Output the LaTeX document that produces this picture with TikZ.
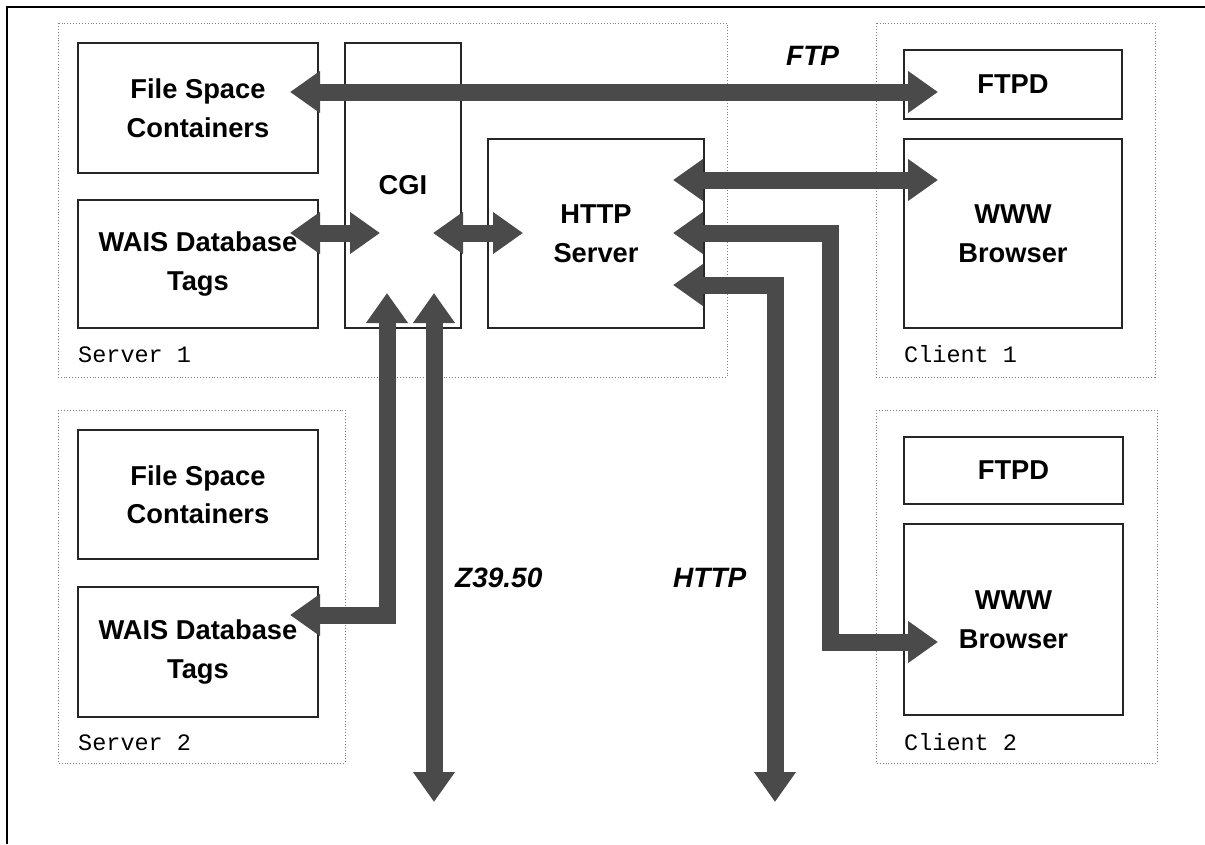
\documentclass[tikz,border=0pt]{standalone}
\usepackage{fontspec}
\setmainfont{Liberation Sans}
\setmonofont{Liberation Mono}
\usetikzlibrary{arrows.meta,calc}
\definecolor{arrowgray}{HTML}{4A4A4A}
\definecolor{dotgray}{HTML}{808080}
\tikzset{
  box/.style={draw=black!85, line width=1.2pt, align=center, inner sep=0pt, outer sep=0pt,
    font=\fontsize{27.3}{38.5}\selectfont\bfseries},
  group/.style={draw=dotgray, dotted, line width=0.9pt},
  grplabel/.style={anchor=base west, inner sep=0pt, font=\fontsize{23.5}{28}\selectfont\ttfamily},
  proto/.style={anchor=base west, inner sep=0pt, font=\fontsize{28}{34}\selectfont\bfseries\itshape},
  bigarrow/.style={draw=arrowgray, line width=17pt, line join=miter,
    {Triangle[width=40pt,length=30pt]}-{Triangle[width=40pt,length=30pt]}}
}
\begin{document}
\begin{tikzpicture}[x=1pt,y=-1pt]
\useasboundingbox (0,0) rectangle (1205,844);
% outer frame (top and left only)
\draw[line width=2pt] (7,844) -- (7,7) -- (1205,7);

% group containers
\draw[group] (58,23) rectangle (727,377);
\draw[group] (876,23) rectangle (1155,377);
\draw[group] (58,410) rectangle (345,763);
\draw[group] (876,410) rectangle (1157,763);

% Server 1
\node[box, minimum width=240pt, minimum height=130pt] (fs1) at (198,108) {File Space\\Containers};
\node[box, minimum width=240pt, minimum height=128pt] (wais1) at (198,264) {WAIS Database\\Tags};
\node[box, minimum width=116pt, minimum height=285pt] (cgi) at (403,185.5) {CGI};
\node[box, minimum width=216pt, minimum height=189pt] (http) at (596,233.5) {HTTP\\Server};
\node[grplabel] (srv1) at (78,362) {Server 1};

% Client 1
\node[box, minimum width=218pt, minimum height=69pt] (ftpd1) at (1013,84.5) {FTPD};
\node[box, minimum width=218pt, minimum height=189pt] (www1) at (1013,233.5) {WWW\\Browser};
\node[grplabel] (cli1) at (904,362) {Client 1};

% Server 2
\node[box, minimum width=240pt, minimum height=129pt] (fs2) at (198,494.5) {File Space\\Containers};
\node[box, minimum width=240pt, minimum height=130pt] (wais2) at (198,652) {WAIS Database\\Tags};
\node[grplabel] (srv2) at (78,750) {Server 2};

% Client 2
\node[box, minimum width=219pt, minimum height=67pt] (ftpd2) at (1013.5,470.5) {FTPD};
\node[box, minimum width=219pt, minimum height=191pt] (www2) at (1013.5,619.5) {WWW\\Browser};
\node[grplabel] (cli2) at (904,750) {Client 2};

% protocol labels
\node[proto] (lftp) at (786,65) {FTP};
\node[proto] (lz39) at (455,587) {Z39.50};
\node[proto] (lhttp) at (673,587) {HTTP};

% free ends / bends
\coordinate (bend5) at (830,642);
\coordinate (httpout) at (775,802);
\coordinate (z39out) at (434,802);

% arrows
\draw[bigarrow] ($(fs1.east)+(-28,-16)$) -- ($(ftpd1.west)+(34,7.5)$);
\draw[bigarrow] ($(wais1.east)+(-28,-31)$) -- ($(cgi.west)+(35,47.5)$);
\draw[bigarrow] ($(cgi.east)+(-28,47.5)$) -- ($(http.west)+(35,-0.5)$);
\draw[bigarrow] ($(http.east)+(-31,-53.5)$) -- ($(www1.west)+(34,-53.5)$);
\draw[bigarrow] ($(http.east)+(-31,-0.5)$) -| (bend5) -- ($(www2.west)+(34,22.5)$);
\draw[bigarrow] ($(http.east)+(-31,51.5)$) -| (httpout);
\draw[bigarrow] ($(cgi.south)+(-16,-35)$) |- ($(wais2.east)+(-28,-37)$);
\draw[bigarrow] ($(cgi.south)+(31,-35)$) -- (z39out);
\end{tikzpicture}
\end{document}
